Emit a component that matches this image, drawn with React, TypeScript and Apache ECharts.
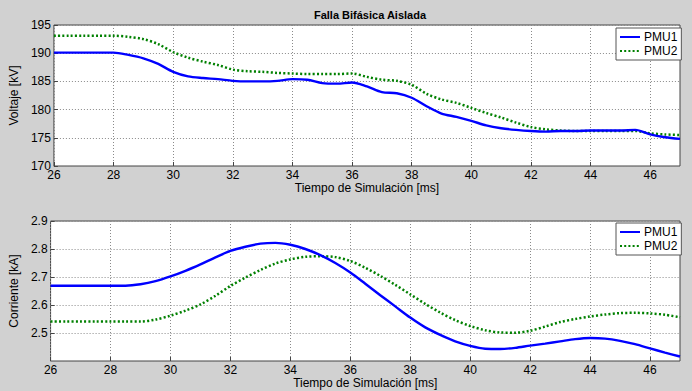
import React, { useEffect, useRef } from "react";
import * as echarts from "echarts";

const title = "Falla Bifásica Aislada";
const xName = "Tiempo de Simulación [ms]";
const seriesNames = ["PMU1", "PMU2"];

const time = [
  26, 26.5, 27, 27.5, 28, 28.5, 29, 29.5, 30, 30.5, 31, 31.5, 32, 32.5, 33, 33.5,
  34, 34.5, 35, 35.5, 36, 36.5, 37, 37.5, 38, 38.5, 39, 39.5, 40, 40.5, 41, 41.5,
  42, 42.5, 43, 43.5, 44, 44.5, 45, 45.5, 46, 46.5, 47,
];

const voltPMU1 = [
  190.1, 190.1, 190.1, 190.1, 190.1, 189.7, 189.1, 188.1, 186.7, 185.9, 185.6, 185.4,
  185.1, 185.0, 185.0, 185.1, 185.4, 185.3, 184.7, 184.6, 184.8, 184.1, 183.1, 182.9,
  182.1, 180.6, 179.3, 178.7, 178.0, 177.2, 176.7, 176.4, 176.2, 176.1, 176.2, 176.2,
  176.3, 176.3, 176.3, 176.4, 175.6, 175.1, 174.8,
];
const voltPMU2 = [
  193.1, 193.1, 193.1, 193.1, 193.1, 192.9, 192.5, 191.6, 190.2, 189.2, 188.5, 187.9,
  187.1, 186.8, 186.7, 186.5, 186.4, 186.3, 186.3, 186.3, 186.4, 185.8, 185.3, 185.1,
  184.4, 182.8, 181.8, 181.2, 180.3, 179.4, 178.6, 177.7, 176.9, 176.5, 176.3, 176.2,
  176.2, 176.2, 176.2, 176.2, 175.8, 175.6, 175.5,
];
const currPMU1 = [
  2.669, 2.669, 2.669, 2.669, 2.669, 2.669, 2.674, 2.685, 2.702, 2.722, 2.745, 2.77,
  2.793, 2.808, 2.819, 2.822, 2.815, 2.8, 2.778, 2.75, 2.716, 2.676, 2.635, 2.595,
  2.555, 2.52, 2.493, 2.47, 2.454, 2.444, 2.443, 2.447, 2.455, 2.462, 2.47, 2.478,
  2.482, 2.48, 2.472, 2.46, 2.445, 2.43, 2.416,
];
const currPMU2 = [
  2.541, 2.541, 2.541, 2.541, 2.541, 2.541, 2.541, 2.548, 2.562, 2.58, 2.602, 2.633,
  2.668, 2.698, 2.725, 2.748, 2.763, 2.772, 2.774, 2.771, 2.757, 2.733, 2.704, 2.672,
  2.638, 2.604, 2.573, 2.546, 2.525, 2.51, 2.502, 2.501, 2.508, 2.523, 2.539, 2.55,
  2.559, 2.566, 2.571, 2.572, 2.57, 2.565, 2.556,
];

const FONT = "'Liberation Sans', Arial, sans-serif";
const BLUE = "#0000ff";
const GREEN = "#008000";

function pairs(xs: number[], ys: number[]) {
  return xs.map((x, i) => [x, ys[i]]);
}

export default function App() {
  const ref = useRef<HTMLDivElement>(null);
  useEffect(() => {
    if (!ref.current) return;
    const chart = echarts.init(ref.current, null, { renderer: "svg" });
    const xAxisBase = (gridIndex: number, gap: number) => ({
      type: "value",
      gridIndex,
      min: 26,
      max: 47,
      interval: 2,
      name: xName,
      nameLocation: "middle",
      nameGap: gap,
      nameTextStyle: { fontFamily: FONT, fontSize: 12, color: "#000" },
      axisLine: { show: false },
      axisTick: { show: true, inside: true, length: 4, lineStyle: { color: "#444" } },
      axisLabel: { showMaxLabel: false, margin: 3, fontFamily: FONT, fontSize: 12, color: "#000" },
      splitLine: { show: true, lineStyle: { type: [1, 2], color: "#8a8a8a", width: 1 } },
    });
    const yLabel = (name: string) => ({
      name,
      nameLocation: "middle",
      nameGap: 23,
      nameTextStyle: { fontFamily: FONT, fontSize: 12, color: "#000" },
      axisLine: { show: false },
      axisTick: { show: true, inside: true, length: 4, lineStyle: { color: "#444" } },
      splitLine: { show: true, lineStyle: { type: [1, 2], color: "#8a8a8a", width: 1 } },
    });
    const legendBase = (top: number) => ({
      left: 616,
      top,
      orient: "vertical",
      backgroundColor: "#fff",
      borderColor: "#555",
      borderWidth: 1,
      borderRadius: 0,
      padding: [3, 4, 3, 3],
      itemGap: 2,
      itemWidth: 20,
      itemHeight: 12,
      itemStyle: { color: "rgba(0,0,0,0)", borderColor: "rgba(0,0,0,0)", borderWidth: 0, opacity: 0 },
      textStyle: { fontFamily: FONT, fontSize: 12, color: "#000", padding: [0, 0, 0, -1] },
      data: seriesNames,
      selectedMode: false,
    });
    const lineSeries = (name: string, idx: number, data: number[][], color: string, dotted: boolean) => ({
      type: "line",
      name,
      xAxisIndex: idx,
      yAxisIndex: idx,
      data,
      smooth: 0.3,
      symbol: "none",
      showSymbol: false,
      lineStyle: dotted
        ? { color, width: 2.5, type: [2, 2.2] }
        : { color, width: 2.4, type: "solid" },
      itemStyle: { color },
      z: dotted ? 3 : 4,
    });
    chart.setOption({
      animation: false,
      backgroundColor: "#d1d1d1",
      title: {
        text: title,
        left: 365,
        top: 4,
        textAlign: "center",
        textStyle: { fontFamily: FONT, fontSize: 11, fontWeight: "bold", color: "#000" },
      },
      grid: [
        { left: 49, top: 25, width: 631, height: 141, show: true, backgroundColor: "#fff", borderColor: "#444", borderWidth: 1 },
        { left: 49, top: 221, width: 631, height: 140, show: true, backgroundColor: "#fff", borderColor: "#444", borderWidth: 1 },
      ],
      legend: [legendBase(28), legendBase(223)],
      xAxis: [xAxisBase(0, 14), xAxisBase(1, 15)],
      yAxis: [
        {
          type: "value",
          gridIndex: 0,
          min: 170,
          max: 195,
          interval: 5,
          ...yLabel("Voltaje [kV]"),
          axisLabel: { margin: 3, fontFamily: FONT, fontSize: 12, color: "#000" },
        },
        {
          type: "value",
          gridIndex: 1,
          min: 2.4,
          max: 2.9,
          interval: 0.1,
          ...yLabel("Corriente [kA]"),
          axisLabel: {
            margin: 3,
            showMinLabel: false,
            fontFamily: FONT,
            fontSize: 12,
            color: "#000",
            formatter: (v: number) => v.toFixed(1),
          },
        },
      ],
      series: [
        lineSeries(seriesNames[0], 0, pairs(time, voltPMU1), BLUE, false),
        lineSeries(seriesNames[1], 0, pairs(time, voltPMU2), GREEN, true),
        lineSeries(seriesNames[0], 1, pairs(time, currPMU1), BLUE, false),
        lineSeries(seriesNames[1], 1, pairs(time, currPMU2), GREEN, true),
      ],
    });
    return () => chart.dispose();
  }, []);
  return (
    <div
      ref={ref}
      style={{ position: "fixed", left: 0, top: 0, width: 692, height: 391 }}
    />
  );
}
